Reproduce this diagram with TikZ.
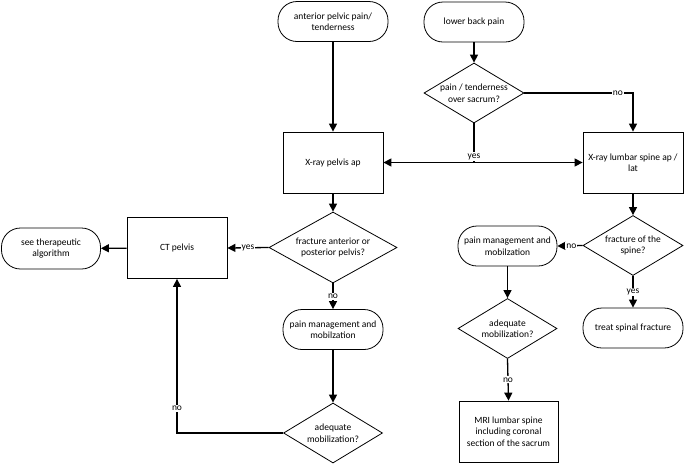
\documentclass[tikz,border=0pt]{standalone}
\usepackage{fontspec}
\setmainfont{Carlito}
\usetikzlibrary{shapes.geometric,arrows.meta}
\begin{document}
\begin{tikzpicture}[x=1pt,y=-1pt,
  every node/.style={font=\fontsize{9.5}{11.5}\selectfont},
  term/.style={draw,line width=0.8pt,rounded corners=19pt,minimum width=#1,minimum height=40pt,align=center,inner sep=1pt},
  term/.default=100pt,
  box/.style={draw,line width=0.8pt,minimum width=100pt,minimum height=61pt,align=center,inner sep=2pt},
  dia/.style n args={2}{draw,diamond,line width=0.8pt,inner sep=0pt,minimum width=#1,minimum height=#2},
  every label/.style={align=center,font=\fontsize{9.5}{11.5}\selectfont},
  arr/.style={line width=1.3pt,-{Triangle[length=8pt,width=8pt]}},
  ln/.style={line width=1.3pt},
  lab/.style={fill=white,inner sep=1pt}
]
\useasboundingbox (0,0) rectangle (685,464);
% nodes
\node[term=110pt] (ap) at (333,21.5) {anterior pelvic pain/\\tenderness};
\node[term] (lbp) at (474,22) {lower back pain};
\node[dia={100pt}{60pt},label={center:pain / tenderness\\over sacrum?}] (d1) at (474,93) {};
\node[box] (xp) at (333,162.5) {X-ray pelvis ap};
\node[box] (xl) at (633,162.5) {X-ray lumbar spine ap /\\lat};
\node[dia={128pt}{71pt},label={center:fracture anterior or\\posterior pelvis?}] (d2) at (333,247.5) {};
\node[box] (ct) at (177,248) {CT pelvis};
\node[term=99pt,minimum height=41pt] (st) at (51,248.5) {see therapeutic\\algorithm};
\node[term=100pt] (pm1) at (333,329.5) {pain management and\\mobilzation};
\node[dia={99pt}{60pt},label={center:adequate\\mobilization?}] (d3) at (333,433) {};
\node[dia={100pt}{60pt},label={center:fracture of the\\spine?}] (d4) at (633,245.5) {};
\node[term=99pt] (pm2) at (507.5,246) {pain management and\\mobilzation};
\node[dia={99pt}{60pt},label={center:adequate\\mobilization?}] (d5) at (507.5,328.5) {};
\node[box,minimum width=99pt] (mri) at (508.5,431.5) {MRI lumbar spine\\including coronal\\section of the sacrum};
\node[term=100pt] (tsf) at (633,328) {treat spinal fracture};
% connectors
\draw[arr] (ap) -- (xp);
\draw[arr] (lbp) -- (d1);
\draw[arr] (d1.east) -| node[lab,pos=0.43]{no} (xl.north);
\coordinate (yj) at (474,162.5);
\draw[ln] (d1.south) -- (yj);
\draw[arr] (yj) -- (xp.east);
\draw[arr] (yj) -- (xl.west);
\node[lab] (yes1) at (474,156.5) {yes};
\draw[arr] (xp) -- (d2);
\draw[arr] (d2.west) -- node[lab,pos=0.5]{yes} (ct.east);
\draw[arr] (ct) -- (st);
\draw[arr] (d2.south) -- node[lab,pos=0.5]{no} (pm1.north);
\draw[arr] (pm1) -- (d3);
\draw[arr] (d3.west) -| node[lab,pos=0.58]{no} (ct.south);
\draw[arr] (xl) -- (d4);
\draw[arr] (d4.west) -- node[lab,pos=0.45]{no} (pm2.east);
\draw[arr] (d4.south) -- node[lab,pos=0.5]{yes} (tsf.north);
\draw[arr] (pm2) -- (d5);
\draw[arr] (d5.south) -- node[lab,pos=0.5]{no} (mri.north);
\end{tikzpicture}
\end{document}
